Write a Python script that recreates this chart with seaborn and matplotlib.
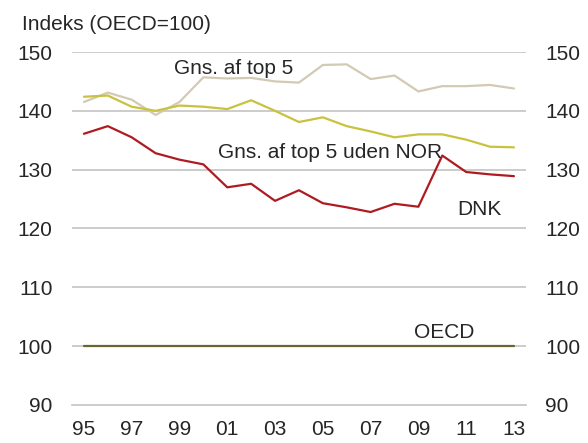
import numpy as np
import pandas as pd
import seaborn as sns
import matplotlib.pyplot as plt

# Data (index, OECD = 100)
years = list(range(1995, 2014))
dnk = [136.1, 137.4, 135.5, 132.8, 131.7, 130.9, 127.0, 127.6, 124.7, 126.5,
       124.3, 123.6, 122.8, 124.2, 123.7, 132.4, 129.6, 129.2, 128.9]
top5_ex_nor = [142.4, 142.6, 140.7, 140.0, 140.9, 140.7, 140.3, 141.8, 140.0, 138.1,
               138.9, 137.4, 136.5, 135.5, 136.0, 136.0, 135.1, 133.9, 133.8]
top5 = [141.5, 143.1, 141.9, 139.3, 141.5, 145.7, 145.5, 145.6, 145.0, 144.8,
        147.8, 147.9, 145.4, 146.0, 143.3, 144.2, 144.2, 144.4, 143.8]
oecd = [100.0] * len(years)

series_names = ['Gns. af top 5', 'Gns. af top 5 uden NOR', 'DNK', 'OECD']
series_values = [top5, top5_ex_nor, dnk, oecd]
colors = {'Gns. af top 5': '#D3CAB4', 'Gns. af top 5 uden NOR': '#C9C23E',
          'DNK': '#AE1C22', 'OECD': '#6B6535'}

x_labels = ['95', '97', '99', '01', '03', '05', '07', '09', '11', '13']

# Long-form table for seaborn
rows = []
for name, vals in zip(series_names, series_values):
    for i, v in enumerate(vals):
        rows.append({'idx': i, 'value': v, 'serie': name})
df = pd.DataFrame(rows)

sns.set_style('white')
plt.rcParams['font.family'] = ['Liberation Sans', 'DejaVu Sans']
fs = 15

fig = plt.figure(figsize=(5.88, 4.43), dpi=100)
ax = fig.add_axes([0.1224, 0.0858, 0.772, 0.7968])

# grid lines
for g in [100, 110, 120, 130, 140, 150]:
    ax.axhline(g, color='#C4C4C4', lw=1.2, zorder=0)

sns.lineplot(data=df, x='idx', y='value', hue='serie', palette=colors,
             hue_order=series_names, legend=False, lw=1.6, ax=ax, zorder=3)

ax.set_xlim(-0.5, len(years) - 0.5)
ax.set_ylim(90, 150)
ax.set_xlabel('')
ax.set_ylabel('')

for s in ['top', 'left', 'right']:
    ax.spines[s].set_visible(False)
ax.spines['bottom'].set_color('#C4C4C4')
ax.spines['bottom'].set_linewidth(1.2)

ax.set_xticks(np.arange(0, len(years), 2))
ax.set_xticklabels(x_labels, fontsize=fs)
ax.set_xticks(np.arange(-0.5, len(years), 1), minor=True)
ax.tick_params(axis='x', which='major', length=0, pad=11)
ax.tick_params(axis='x', which='minor', length=4, color='#C4C4C4', width=1)

ax.set_yticks([90, 100, 110, 120, 130, 140, 150])
ax.tick_params(axis='y', length=0, labelsize=fs, pad=14,
               labelleft=True, labelright=True)

# labels on the lines
ax.text(6.26, 147.2, 'Gns. af top 5', fontsize=fs, ha='center', va='center')
ax.text(10.3, 132.9, 'Gns. af top 5 uden NOR', fontsize=fs, ha='center', va='center')
ax.text(16.57, 123.2, 'DNK', fontsize=fs, ha='center', va='center')
ax.text(15.1, 102.4, 'OECD', fontsize=fs, ha='center', va='center')

fig.text(22 / 588, 1 - 25 / 443, 'Indeks (OECD=100)', fontsize=fs,
         ha='left', va='center')

fig.savefig('out.png', dpi=100)
